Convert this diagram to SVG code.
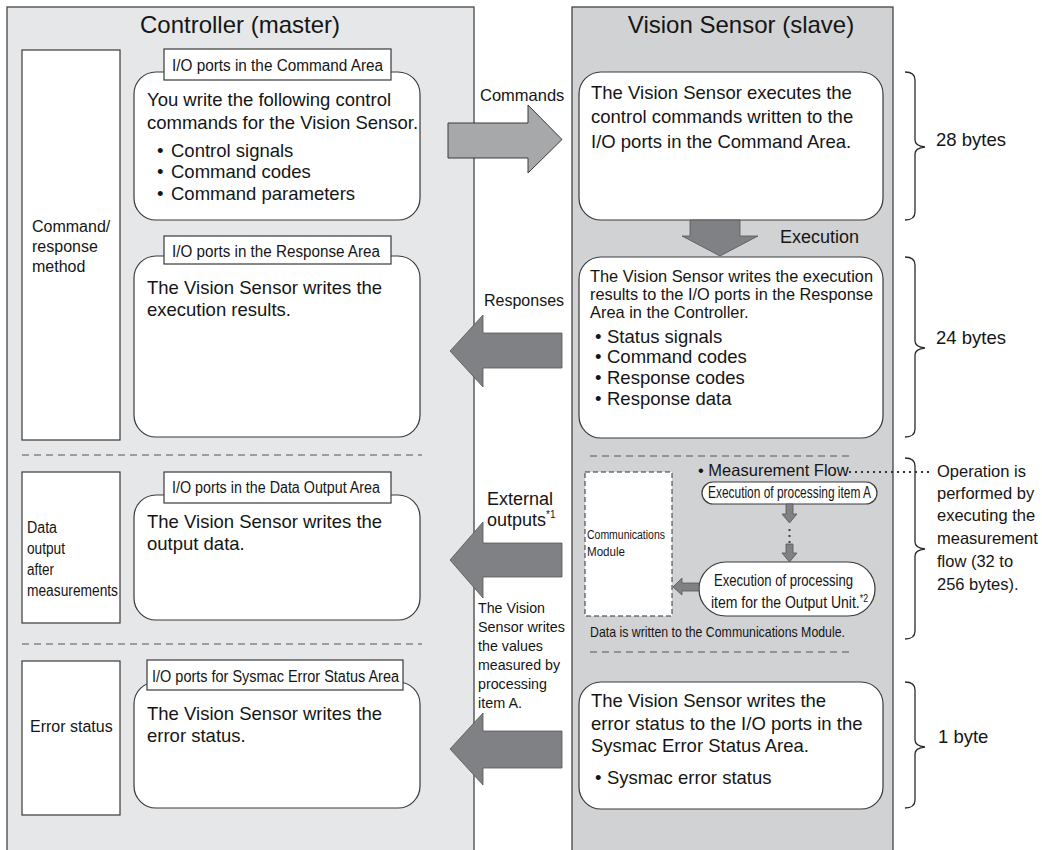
<svg xmlns="http://www.w3.org/2000/svg" width="1042" height="850" viewBox="0 0 1042 850">
<defs>
<style>
text{font-family:"Liberation Sans",Arial,Helvetica,sans-serif;fill:#151515}
.title{font-size:24px}
.body{font-size:18.5px}
.small{font-size:16.4px}
.lab{font-size:16px}
.tab{font-size:16px}
.side{font-size:15.5px}
.box{fill:#fff;stroke:#3a3a3a;stroke-width:1.2}
.panel{stroke:#444;stroke-width:1.3}
.dash{stroke:#555;stroke-width:1;stroke-dasharray:7 5;fill:none}
.brace{fill:none;stroke:#2a2a2a;stroke-width:1.3}
.arr{fill:#808184;stroke:#555;stroke-width:0.8}
.arrC{fill:#a7a8aa;stroke:#3a3a3a;stroke-width:1}
.sup{font-size:10px}
</style>
</defs>
<rect x="0" y="0" width="1042" height="850" fill="#fff"/>

<g id="controller-panel">
<rect class="panel" x="7" y="7" width="467" height="860" fill="#e6e7e8"/>
<text class="title" x="240" y="33" text-anchor="middle">Controller (master)</text>
</g>
<g id="sensor-panel">
<rect class="panel" x="572" y="7" width="321" height="860" fill="#d1d2d4"/>
<text class="title" x="741" y="33" text-anchor="middle">Vision Sensor (slave)</text>
</g>

<g id="separators">
<line class="dash" x1="22" y1="455" x2="422" y2="455"/>
<line class="dash" x1="22" y1="644" x2="422" y2="644"/>
<line class="dash" x1="590" y1="456" x2="854" y2="456"/>
<line class="dash" x1="590" y1="652" x2="854" y2="652"/>
</g>

<g id="label-command-response">
<rect class="box" x="22" y="50" width="98" height="390"/>
<text class="lab" x="32" y="232">Command/</text>
<text class="lab" x="32" y="252">response</text>
<text class="lab" x="32" y="272">method</text>
</g>
<g id="label-data-output">
<rect class="box" x="22" y="472" width="98" height="151"/>
<text class="lab" x="27" y="533" textLength="30" lengthAdjust="spacingAndGlyphs">Data</text>
<text class="lab" x="27" y="554" textLength="38" lengthAdjust="spacingAndGlyphs">output</text>
<text class="lab" x="27" y="575" textLength="27" lengthAdjust="spacingAndGlyphs">after</text>
<text class="lab" x="27" y="596" textLength="91" lengthAdjust="spacingAndGlyphs">measurements</text>
</g>
<g id="label-error-status">
<rect class="box" x="22" y="661" width="98" height="154"/>
<text class="lab" x="30" y="732" font-size="16.5">Error status</text>
</g>

<g id="ctrl-command-area">
<rect class="box" x="134" y="72" width="286" height="148" rx="22"/>
<rect class="box" x="164" y="49" width="227" height="31"/>
<text class="tab" x="172" y="71" textLength="211" lengthAdjust="spacingAndGlyphs">I/O ports in the Command Area</text>
<text class="body" x="147" y="106">You write the following control</text>
<text class="body" x="147" y="129">commands for the Vision Sensor.</text>
<text class="body" x="157" y="157">•</text><text class="body" x="171" y="157">Control signals</text>
<text class="body" x="157" y="178">•</text><text class="body" x="171" y="178">Command codes</text>
<text class="body" x="157" y="200">•</text><text class="body" x="171" y="200">Command parameters</text>
</g>
<g id="ctrl-response-area">
<rect class="box" x="134" y="256" width="286" height="181" rx="22"/>
<rect class="box" x="164" y="236" width="227" height="28"/>
<text class="tab" x="172" y="257" textLength="208" lengthAdjust="spacingAndGlyphs">I/O ports in the Response Area</text>
<text class="body" x="147" y="294">The Vision Sensor writes the</text>
<text class="body" x="147" y="316">execution results.</text>
</g>
<g id="ctrl-data-output-area">
<rect class="box" x="134" y="495" width="286" height="125" rx="22"/>
<rect class="box" x="164" y="472" width="227" height="31"/>
<text class="tab" x="172" y="493" textLength="208" lengthAdjust="spacingAndGlyphs">I/O ports in the Data Output Area</text>
<text class="body" x="147" y="528">The Vision Sensor writes the</text>
<text class="body" x="147" y="550">output data.</text>
</g>
<g id="ctrl-error-status-area">
<rect class="box" x="134" y="682" width="286" height="126" rx="22"/>
<rect class="box" x="147" y="660" width="256" height="30"/>
<text class="tab" x="152" y="682" textLength="247" lengthAdjust="spacingAndGlyphs">I/O ports for Sysmac Error Status Area</text>
<text class="body" x="147" y="720">The Vision Sensor writes the</text>
<text class="body" x="147" y="742">error status.</text>
</g>

<g id="vs-execute-commands">
<rect class="box" x="579" y="72" width="304" height="148" rx="22"/>
<text class="body" x="591" y="99">The Vision Sensor executes the</text>
<text class="body" x="591" y="123">control commands written to the</text>
<text class="body" x="591" y="148">I/O ports in the Command Area.</text>
</g>
<g id="vs-write-results">
<rect class="box" x="579" y="257" width="304" height="181" rx="22"/>
<text class="small" x="590" y="282" textLength="283" lengthAdjust="spacingAndGlyphs">The Vision Sensor writes the execution</text>
<text class="small" x="590" y="300" textLength="283" lengthAdjust="spacingAndGlyphs">results to the I/O ports in the Response</text>
<text class="small" x="590" y="318">Area in the Controller.</text>
<text class="body" x="595" y="343">•</text><text class="body" x="607" y="343">Status signals</text>
<text class="body" x="595" y="363">•</text><text class="body" x="607" y="363">Command codes</text>
<text class="body" x="595" y="384">•</text><text class="body" x="607" y="384">Response codes</text>
<text class="body" x="595" y="405">•</text><text class="body" x="607" y="405">Response data</text>
</g>
<g id="vs-measurement-flow">
<rect x="585" y="472" width="87" height="144" fill="#fff" stroke="#333" stroke-width="1" stroke-dasharray="5 3"/>
<text x="587" y="539" font-size="12.5" textLength="78" lengthAdjust="spacingAndGlyphs">Communications</text>
<text x="587" y="556" font-size="12.5" textLength="38" lengthAdjust="spacingAndGlyphs">Module</text>
<text x="698" y="476" font-size="16.5">• Measurement Flow</text>
<rect class="box" x="702" y="482" width="175" height="22" rx="11"/>
<text x="708" y="498" font-size="16" textLength="163" lengthAdjust="spacingAndGlyphs">Execution of processing item A</text>
<rect class="box" x="699" y="562" width="176" height="54" rx="27"/>
<text x="714" y="586" font-size="16" textLength="139" lengthAdjust="spacingAndGlyphs">Execution of processing</text>
<text x="711" y="608" font-size="16" textLength="157" lengthAdjust="spacingAndGlyphs">item for the Output Unit.<tspan class="sup" dy="-6">*2</tspan></text>
<text x="590" y="637" font-size="15" textLength="255" lengthAdjust="spacingAndGlyphs">Data is written to the Communications Module.</text>
</g>
<g id="vs-error-status">
<rect class="box" x="579" y="682" width="304" height="127" rx="22"/>
<text class="body" x="591" y="707">The Vision Sensor writes the</text>
<text class="body" x="591" y="730">error status to the I/O ports in the</text>
<text class="body" x="591" y="752">Sysmac Error Status Area.</text>
<text class="body" x="595" y="784">•</text><text class="body" x="607" y="784">Sysmac error status</text>
</g>

<g id="byte-annotations">
<path class="brace" d="M905,72 Q915,72 915,80 L915,140 Q915,146 925,147 Q915,148 915,154 L915,212 Q915,220 905,220"/>
<text class="body" x="936" y="146">28 bytes</text>
<path class="brace" d="M905,257 Q915,257 915,265 L915,341 Q915,347 925,348 Q915,349 915,355 L915,429 Q915,437 905,437"/>
<text class="body" x="936" y="344">24 bytes</text>
<path class="brace" d="M905,458 Q915,458 915,466 L915,542 Q915,548 925,549 Q915,550 915,556 L915,631 Q915,639 905,639"/>
<text x="937" y="477" font-size="16.5">Operation is</text>
<text x="937" y="499" font-size="16.5">performed by</text>
<text x="937" y="521" font-size="16.5">executing the</text>
<text x="937" y="544" font-size="16.5">measurement</text>
<text x="937" y="567" font-size="16.5">flow (32 to</text>
<text x="937" y="590" font-size="16.5">256 bytes).</text>
<path class="brace" d="M905,682 Q915,682 915,690 L915,740 Q915,746 925,747 Q915,748 915,754 L915,800 Q915,808 905,808"/>
<text class="body" x="938" y="743">1 byte</text>
</g>

<g id="connectors">
<polygon class="arrC" points="448,123 528,123 528,105 562,139.5 528,173 528,158 448,158"/>
<text x="480" y="101" font-size="16.5">Commands</text>
<polygon class="arr" points="690,220 740,220 740,236 758,236 720,256 682,236 690,236"/>
<text x="780" y="243" font-size="18">Execution</text>
<polygon class="arr" points="562,333 483,333 483,315 450,351 483,387 483,368 562,368"/>
<text x="484" y="306" font-size="16">Responses</text>
<polygon class="arr" points="562,543 483,543 483,522 450,560 483,598 483,577 562,577"/>
<text x="487" y="505" font-size="18">External</text>
<text x="487" y="526" font-size="18">outputs<tspan class="sup" dy="-8">*1</tspan></text>
<text class="side" x="478" y="613" textLength="67" lengthAdjust="spacingAndGlyphs">The Vision</text>
<text class="side" x="478" y="632" textLength="87" lengthAdjust="spacingAndGlyphs">Sensor writes</text>
<text class="side" x="478" y="651" textLength="65" lengthAdjust="spacingAndGlyphs">the values</text>
<text class="side" x="478" y="670" textLength="82" lengthAdjust="spacingAndGlyphs">measured by</text>
<text class="side" x="478" y="689" textLength="69" lengthAdjust="spacingAndGlyphs">processing</text>
<text class="side" x="478" y="708" textLength="44" lengthAdjust="spacingAndGlyphs">item A.</text>
<polygon class="arr" points="562,731 483,731 483,713 450,749 483,785 483,768 562,768"/>
<polygon class="arr" points="786,504 793,504 793,514 797,514 789.5,523 782,514 786,514"/>
<line x1="789.5" y1="529" x2="789.5" y2="543" stroke="#444" stroke-width="2" stroke-dasharray="2 4"/>
<polygon class="arr" points="786,544 793,544 793,553 797,553 789.5,562 782,553 786,553"/>
<polygon class="arr" points="699,583 682,583 682,578 673,587 682,595 682,591 699,591"/>
<line x1="849" y1="472" x2="933" y2="472" stroke="#333" stroke-width="2" stroke-dasharray="2 4"/>
</g>
</svg>
